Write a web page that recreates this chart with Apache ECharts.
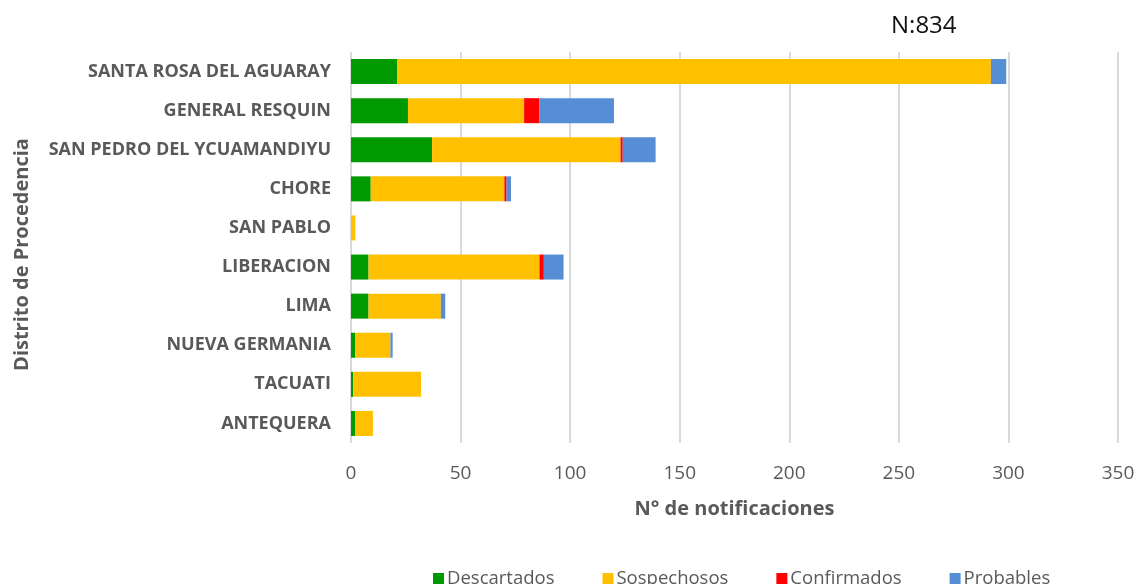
<!DOCTYPE html>
<html>

<head>
  <meta charset="UTF-8">
  <title>Notificaciones por distrito</title>
  <script src="https://cdn.jsdelivr.net/npm/echarts@6/dist/echarts.min.js"></script>
  <style>
    html, body { margin: 0; padding: 0; background: #fff; }
  </style>
</head>

<body>
  <div id="main" style="width: 1137px;height:584px;"></div>
  <script type="text/javascript">
    // distritos (de arriba hacia abajo)
    var categories = ['SANTA ROSA DEL AGUARAY', 'GENERAL RESQUIN', 'SAN PEDRO DEL YCUAMANDIYU', 'CHORE',
      'SAN PABLO', 'LIBERACION', 'LIMA', 'NUEVA GERMANIA', 'TACUATI', 'ANTEQUERA'];

    // valores por clasificacion
    var descartados = [21, 26, 37, 9, 0, 8, 8, 2, 1, 2];
    var sospechosos = [271, 53, 86, 61, 2, 78, 33, 16, 31, 8];
    var confirmados = [0, 7, 1, 1, 0, 2, 0, 0, 0, 0];
    var probables = [7, 34, 15, 2, 0, 9, 2, 1, 0, 0];

    var xTicks = [0, 50, 100, 150, 200, 250, 300, 350];

    var gris = '#595959';
    var fuente = '"Open Sans", "Noto Sans", sans-serif';

    var myChart = echarts.init(document.getElementById('main'));

    function serie(nombre, datos, color) {
      return {
        name: nombre,
        type: 'bar',
        stack: 'total',
        barWidth: 25,
        itemStyle: { color: color },
        data: datos
      };
    }

    var option = {
      animation: false,
      textStyle: { fontFamily: fuente },
      title: {
        text: 'N:834',
        left: 886,
        top: 9,
        textStyle: { fontSize: 24, fontWeight: 'normal', color: '#111', fontFamily: fuente }
      },
      legend: {
        left: 428,
        top: 564,
        itemWidth: 11,
        itemHeight: 11,
        itemGap: 48,
        icon: 'rect',
        textStyle: { fontSize: 18.5, color: gris, fontFamily: fuente, padding: [0, 0, 0, -2] },
        data: ['Descartados', 'Sospechosos', 'Confirmados', 'Probables']
      },
      grid: {
        left: 351,
        right: 19,
        top: 52,
        bottom: 141,
        containLabel: false,
        outerBoundsMode: 'none'
      },
      xAxis: {
        type: 'value',
        min: xTicks[0],
        max: xTicks[xTicks.length - 1],
        interval: 50,
        name: 'N° de notificaciones',
        nameLocation: 'middle',
        nameGap: 56,
        nameTextStyle: { fontSize: 20, fontWeight: 'bold', color: gris },
        axisLine: { show: false },
        axisTick: { show: false },
        axisLabel: { fontSize: 19, color: gris, margin: 21 },
        splitLine: { lineStyle: { color: '#d9d9d9', width: 2 } }
      },
      yAxis: {
        type: 'category',
        inverse: true,
        data: categories,
        name: 'Distrito de Procedencia',
        nameLocation: 'middle',
        nameRotate: 90,
        nameGap: 319,
        nameTextStyle: { fontSize: 20, fontWeight: 'bold', color: gris, padding: [0, 14, 0, 0] },
        axisLine: { show: false },
        axisTick: { show: false },
        axisLabel: { fontSize: 18, fontWeight: 'bold', color: gris, margin: 20 }
      },
      series: [
        serie('Descartados', descartados, '#009900'),
        serie('Sospechosos', sospechosos, '#ffc000'),
        serie('Confirmados', confirmados, '#ff0000'),
        serie('Probables', probables, '#558ed5')
      ]
    };

    myChart.setOption(option);
  </script>
</body>

</html>
